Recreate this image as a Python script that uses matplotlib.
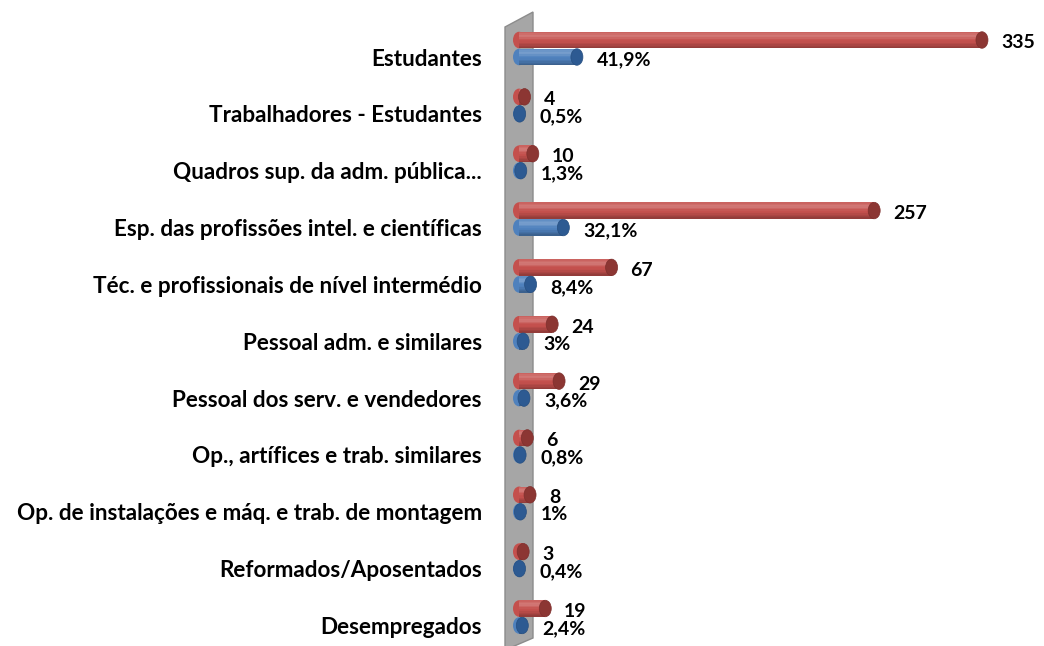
import matplotlib
matplotlib.use("Agg")
import matplotlib.pyplot as plt
import numpy as np
from matplotlib.patches import Rectangle, Ellipse, Polygon
from matplotlib.colors import to_rgb

categories = ["Estudantes", "Trabalhadores - Estudantes", "Quadros sup. da adm. pública...",
              "Esp. das profissões intel. e científicas", "Téc. e profissionais de nível intermédio",
              "Pessoal adm. e similares", "Pessoal dos serv. e vendedores",
              "Op., artífices e trab. similares", "Op. de instalações e máq. e trab. de montagem",
              "Reformados/Aposentados", "Desempregados"]
counts = [335, 4, 10, 257, 67, 24, 29, 6, 8, 3, 19]
percents = [41.9, 0.5, 1.3, 32.1, 8.4, 3, 3.6, 0.8, 1, 0.4, 2.4]

W, H = 1044, 646
DPI = 100
fig = plt.figure(figsize=(W / DPI, H / DPI), dpi=DPI)
fig.patch.set_facecolor("white")

def fy(y):
    return 1 - y / H

# gray 3D wall behind the bars
wall = Polygon([(505 / W, fy(27)), (533 / W, fy(12)), (533 / W, fy(638)), (505 / W, fy(650))],
               closed=True, transform=fig.transFigure, facecolor="#a6a6a6",
               edgecolor="#8c8c8c", lw=1, zorder=0)
fig.patches.append(wall)

scale = 1.382  # px per unit
x0_px = 519
ax_left = 505
ax = fig.add_axes([ax_left / W, 0, 1 - ax_left / W, 1])
ax.set_zorder(2)
ax.set_facecolor("none")
ax.set_xlim(-(x0_px - ax_left) / scale, (W - x0_px) / scale)
row0, step = 57, 56.85
ax.set_ylim((H - row0) / step, -row0 / step)
for s in ax.spines.values():
    s.set_visible(False)
ax.set_xticks([])

cap_w = 12 / scale
bh = 16.5 / step
red_off = -17 / step

def shade(base, t):
    b = np.array(to_rgb(base))
    if t < 0.25:
        k = 0.08 + 0.17 * (t / 0.25)
    elif t < 0.5:
        k = 0.25 * (1 - (t - 0.25) / 0.25)
    else:
        k = 0.0
    c = b + (1 - b) * k
    dark = max(0.0, (t - 0.6) / 0.4) * 0.28
    return tuple(c * (1 - dark))

NB = 12

def cylinder(v, yc, body, cap, edge):
    top = yc - bh / 2
    ax.add_patch(Ellipse((0, yc), cap_w, bh, facecolor=shade(body, 0.5), edgecolor="none", zorder=3))
    for k in range(NB):
        t = (k + 0.5) / NB
        ax.add_patch(Rectangle((0, top + bh * k / NB), v, bh / NB * 1.05,
                               facecolor=shade(body, t), edgecolor="none", zorder=3.1))
    ax.add_patch(Ellipse((v, yc), cap_w, bh, facecolor=cap, edgecolor=edge, lw=0.5, zorder=3.3))

def fmt_pct(p):
    s = ("%g" % p).replace(".", ",")
    return s + "%"

fam = ["Lato", "DejaVu Sans"]
cat_font = dict(family=fam, fontweight="bold", fontsize=16.2, color="black")
val_font = dict(family=fam, fontweight="bold", fontsize=14, color="black")

for i, (c, p) in enumerate(zip(counts, percents)):
    yr = i + red_off
    yb = i
    cylinder(c, yr, "#c4504d", "#8c3633", "#7e2f2d")
    cylinder(p, yb, "#4f81bd", "#2d5a92", "#274f80")
    ax.annotate(str(c), xy=(c, yr), xytext=((6 + 13) * 0.72, -3 * 0.72),
                textcoords="offset points", ha="left", va="center", zorder=5, **val_font)
    ax.annotate(fmt_pct(p), xy=(p, yb), xytext=((6 + 14) * 0.72, -3 * 0.72),
                textcoords="offset points", ha="left", va="center", zorder=5, **val_font)

ax.set_yticks(range(len(categories)))
ax.set_yticklabels(categories, **cat_font)
ax.tick_params(axis="y", length=0, pad=23 * 0.72)

fig.savefig("out.png", dpi=DPI, facecolor="white")
